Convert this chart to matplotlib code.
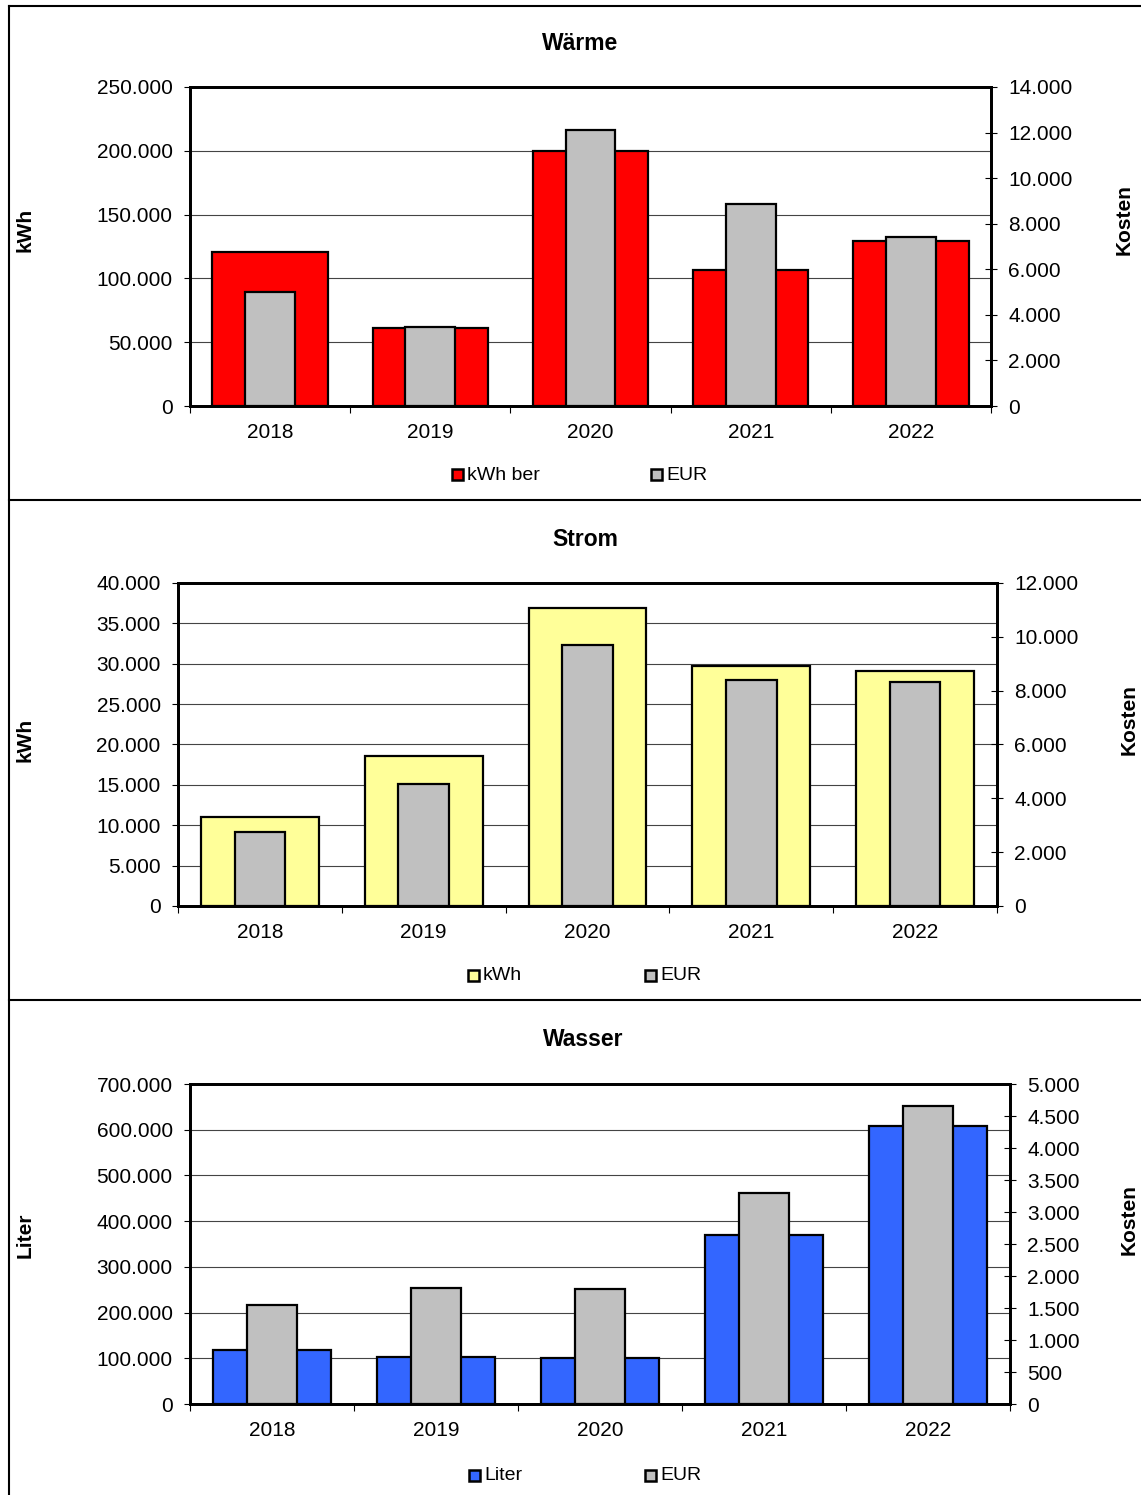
import matplotlib
matplotlib.use("Agg")
import matplotlib.pyplot as plt
import numpy as np
from matplotlib.ticker import FuncFormatter, FixedLocator
from matplotlib.lines import Line2D
from matplotlib.patches import Rectangle

plt.rcParams['font.family'] = ['Liberation Sans', 'DejaVu Sans']

years = ['2018', '2019', '2020', '2021', '2022']

waerme_kwh = [121000, 61000, 200000, 106500, 129500]
waerme_eur = [5000, 3470, 12100, 8870, 7420]

strom_kwh = [11000, 18600, 36850, 29700, 29050]
strom_eur = [2750, 4530, 9680, 8390, 8330]

wasser_liter = [118000, 102000, 100500, 369500, 608500]
wasser_eur = [1550, 1810, 1800, 3290, 4655]

W, H = 1141, 1495
fig = plt.figure(figsize=(W / 100, H / 100), dpi=100)


def fx(px):
    return px / W


def fy(py):
    return 1 - py / H


def de(v, pos=None):
    return f"{int(round(v)):,}".replace(",", ".")


def panel(rect_px, title, title_xy, left_vals, right_vals, color, left_max, left_step,
          right_max, right_step, ylab, ylab_xy, kosten_xy, leg_items, leg_y):
    l, t, r, b = rect_px
    ax = fig.add_axes([fx(l), fy(b), fx(r) - fx(l), fy(t) - fy(b)])
    ax2 = ax.twinx()
    x = np.arange(len(years))

    ax.bar(x, left_vals, 0.72, color=color, edgecolor='black', linewidth=1.6, zorder=3)
    ax2.bar(x, right_vals, 0.31, color='#C0C0C0', edgecolor='black', linewidth=1.6, zorder=3)

    ax.set_xlim(-0.5, len(years) - 0.5)
    ax.set_ylim(0, left_max)
    ax2.set_ylim(0, right_max)
    ax.set_yticks(np.arange(0, left_max + 1, left_step))
    ax2.set_yticks(np.arange(0, right_max + 1, right_step))
    ax.yaxis.set_major_formatter(FuncFormatter(de))
    ax2.yaxis.set_major_formatter(FuncFormatter(de))

    ax.set_xticks(x)
    ax.set_xticklabels(years)
    ax.xaxis.set_minor_locator(FixedLocator(np.arange(-0.5, len(years), 1.0)))
    ax.tick_params(axis='x', which='major', length=0, pad=12.5, labelsize=15)
    ax.tick_params(axis='x', which='minor', length=5, width=0.8, direction='out')
    ax.tick_params(axis='y', length=4.5, width=0.8, direction='out', pad=8, labelsize=15)
    ax2.tick_params(axis='y', length=9, width=0.8, direction='inout', pad=8, labelsize=15)

    ax.yaxis.grid(True, color='#444444', linewidth=0.8, zorder=0)
    ax.set_axisbelow(True)
    for a in (ax, ax2):
        for s in a.spines.values():
            s.set_linewidth(2.0)

    fig.text(fx(title_xy[0]), fy(title_xy[1]), title, ha='center', va='center',
             fontsize=16.5, fontweight='bold')
    fig.text(fx(ylab_xy[0]), fy(ylab_xy[1]), ylab, ha='center', va='center',
             rotation=90, fontsize=15, fontweight='bold')
    fig.text(fx(kosten_xy[0]), fy(kosten_xy[1]), 'Kosten', ha='center', va='center',
             rotation=90, fontsize=15, fontweight='bold')

    for bx, lab, c in leg_items:
        fig.add_artist(Rectangle((fx(bx), fy(leg_y + 6)), fx(11), 11 / H,
                                 transform=fig.transFigure, facecolor=c,
                                 edgecolor='black', linewidth=1.8))
        fig.text(fx(bx + 15), fy(leg_y + 1), lab, ha='left', va='center', fontsize=14)


panel((190, 87, 991, 406), 'Wärme', (580, 44), waerme_kwh, waerme_eur, '#FF0000',
      250000, 50000, 14000, 2000, 'kWh', (25, 230), (1124, 220),
      [(452, 'kWh ber', '#FF0000'), (651, 'EUR', '#C0C0C0')], 474)

panel((178, 583, 997, 906), 'Strom', (585, 539), strom_kwh, strom_eur, '#FFFF99',
      40000, 5000, 12000, 2000, 'kWh', (25, 740), (1129, 720),
      [(468, 'kWh', '#FFFF99'), (645, 'EUR', '#C0C0C0')], 975)

panel((190, 1084, 1010, 1404), 'Wasser', (583, 1039), wasser_liter, wasser_eur, '#3366FF',
      700000, 100000, 5000, 500, 'Liter', (25, 1235), (1129, 1220),
      [(469, 'Liter', '#3366FF'), (645, 'EUR', '#C0C0C0')], 1475)

# panel frames
for (x0, y0, x1, y1) in [(9, 6, W, 6), (9, 6, 9, H), (9, 500, W, 500), (9, 1000, W, 1000)]:
    fig.add_artist(Line2D([fx(x0), fx(x1)], [fy(y0), fy(y1)], transform=fig.transFigure,
                          color='black', linewidth=1.5))

fig.savefig('out.png', dpi=100)
